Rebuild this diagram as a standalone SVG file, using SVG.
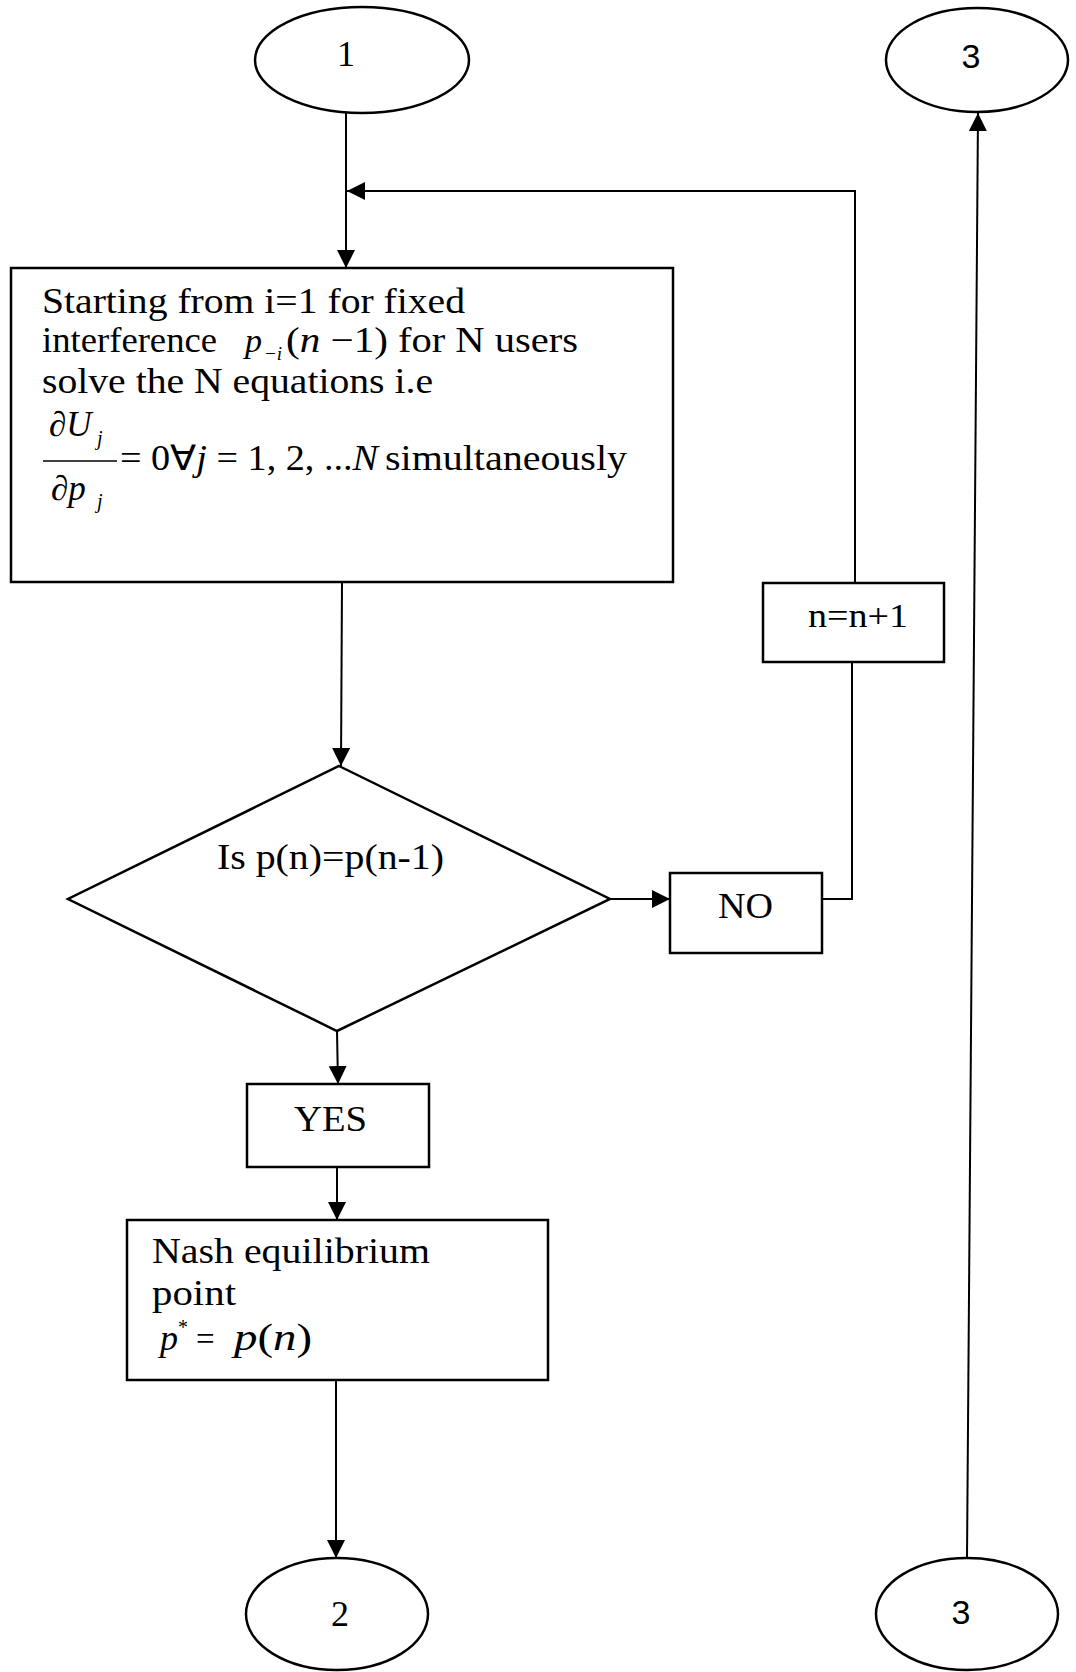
<svg xmlns="http://www.w3.org/2000/svg" width="1076" height="1672" viewBox="0 0 1076 1672">
  <style>
    .shape { fill: none; stroke: #000; stroke-width: 2.5; }
    .conn { fill: none; stroke: #000; stroke-width: 2; }
    .t { font-family: "Liberation Serif", "Times New Roman", serif; fill: #000; }
    .it { font-style: italic; }
    .sans { font-family: "Liberation Sans", Arial, sans-serif; fill: #000; }
  </style>
  <defs>
    <marker id="arr" markerWidth="18" markerHeight="18" refX="18" refY="9" orient="auto" markerUnits="userSpaceOnUse">
      <path d="M0,0 L18,9 L0,18 z" fill="#000"/>
    </marker>
  </defs>
  <rect width="1076" height="1672" fill="#fff"/>

  <!-- connector entry point 1 -->
  <g id="start1">
    <ellipse class="shape" cx="362" cy="60" rx="107" ry="53"/>
    <text class="t" x="346" y="66" font-size="36" text-anchor="middle">1</text>
  </g>

  <!-- connector exit point 3 (top) -->
  <g id="exit3">
    <ellipse class="shape" cx="977" cy="60" rx="91" ry="52"/>
    <text class="sans" x="971" y="68" font-size="34" text-anchor="middle">3</text>
  </g>

  <!-- solve step -->
  <g id="solve">
    <rect class="shape" x="11" y="268" width="662" height="314"/>
    <text class="t" x="42" y="313" font-size="35" textLength="423" lengthAdjust="spacingAndGlyphs">Starting from i=1 for fixed</text>
    <text class="t" x="42" y="352" font-size="35" textLength="175" lengthAdjust="spacingAndGlyphs">interference</text>
    <text class="t it" x="245" y="352" font-size="34">p</text>
    <text class="t it" x="264" y="360" font-size="19">−i</text>
    <text class="t" x="286" y="352" font-size="35" textLength="102" lengthAdjust="spacingAndGlyphs">(<tspan class="it">n</tspan> −1)</text>
    <text class="t" x="398" y="352" font-size="35" textLength="180" lengthAdjust="spacingAndGlyphs">for N users</text>
    <text class="t" x="42" y="393" font-size="35" textLength="391" lengthAdjust="spacingAndGlyphs">solve the N equations i.e</text>
    <text class="t it" x="49" y="436" font-size="35">∂U</text>
    <text class="t it" x="97" y="445" font-size="20">j</text>
    <line x1="43" y1="461" x2="117" y2="461" stroke="#000" stroke-width="1.5"/>
    <text class="t it" x="51" y="500" font-size="35">∂p</text>
    <text class="t it" x="97" y="508" font-size="20">j</text>
    <text class="t" x="120" y="470" font-size="35" textLength="258" lengthAdjust="spacingAndGlyphs">= 0∀<tspan class="it">j</tspan> = 1, 2, ...<tspan class="it">N</tspan></text>
    <text class="t" x="385" y="470" font-size="35" textLength="242" lengthAdjust="spacingAndGlyphs">simultaneously</text>
  </g>

  <!-- decision -->
  <g id="decision">
    <polygon class="shape" points="339,766 610,899 337,1031 68,899"/>
    <text class="t" x="217" y="869" font-size="35" textLength="227" lengthAdjust="spacingAndGlyphs">Is p(n)=p(n-1)</text>
  </g>

  <!-- NO branch -->
  <g id="no">
    <rect class="shape" x="670" y="873" width="152" height="80"/>
    <text class="t" x="718" y="918" font-size="35" textLength="55" lengthAdjust="spacingAndGlyphs">NO</text>
  </g>

  <!-- increment step -->
  <g id="increment">
    <rect class="shape" x="763" y="583" width="181" height="79"/>
    <text class="t" x="808" y="627" font-size="33" textLength="100" lengthAdjust="spacingAndGlyphs">n=n+1</text>
  </g>

  <!-- YES branch -->
  <g id="yes">
    <rect class="shape" x="247" y="1084" width="182" height="83"/>
    <text class="t" x="294" y="1131" font-size="36" textLength="73" lengthAdjust="spacingAndGlyphs">YES</text>
  </g>

  <!-- equilibrium result -->
  <g id="nash">
    <rect class="shape" x="127" y="1220" width="421" height="160"/>
    <text class="t" x="152" y="1263" font-size="36" textLength="278" lengthAdjust="spacingAndGlyphs">Nash equilibrium</text>
    <text class="t" x="152" y="1305" font-size="36" textLength="84" lengthAdjust="spacingAndGlyphs">point</text>
    <text class="t it" x="160" y="1350" font-size="36">p</text>
    <text class="t" x="178" y="1334" font-size="20">*</text>
    <text class="t" x="196" y="1350" font-size="33">=</text>
    <text class="t" x="234" y="1350" font-size="37" textLength="78" lengthAdjust="spacingAndGlyphs"><tspan class="it">p</tspan>(<tspan class="it">n</tspan>)</text>
  </g>

  <!-- connector exit point 2 -->
  <g id="end2">
    <ellipse class="shape" cx="337" cy="1614" rx="91" ry="56"/>
    <text class="t" x="340" y="1626" font-size="36" text-anchor="middle">2</text>
  </g>

  <!-- connector entry point 3 (bottom) -->
  <g id="entry3">
    <ellipse class="shape" cx="967" cy="1614" rx="91" ry="56"/>
    <text class="sans" x="961" y="1624" font-size="34" text-anchor="middle">3</text>
  </g>

  <g id="connectors">
    <path class="conn" d="M346,113 L346,268" marker-end="url(#arr)"/>
    <path class="conn" d="M855,583 L855,191 L347,191" marker-end="url(#arr)"/>
    <path class="conn" d="M342,582 L341,766" marker-end="url(#arr)"/>
    <path class="conn" d="M610,899 L670,899" marker-end="url(#arr)"/>
    <path class="conn" d="M822,899 L852,899 L852,662"/>
    <path class="conn" d="M337,1031 L338,1084" marker-end="url(#arr)"/>
    <path class="conn" d="M337,1167 L337,1220" marker-end="url(#arr)"/>
    <path class="conn" d="M336,1380 L336,1558" marker-end="url(#arr)"/>
    <path class="conn" d="M967,1558 L978,113" marker-end="url(#arr)"/>
  </g>
</svg>
